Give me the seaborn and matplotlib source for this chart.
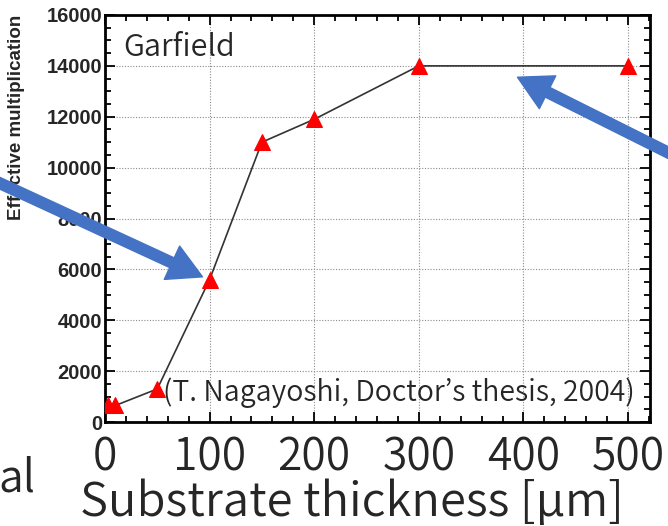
"""effective multiplication vs substrate thickness (garfield)."""

import matplotlib
matplotlib.use("Agg")
import matplotlib.pyplot as plt
from matplotlib.ticker import MultipleLocator
import seaborn as sns

# dados
thickness_um = [3, 10, 50, 100, 150, 200, 300, 500]
multiplication = [650, 650, 1300, 5600, 11000, 11900, 14000, 14000]

x_ticks = [0, 100, 200, 300, 400, 500]
y_ticks = [0, 2000, 4000, 6000, 8000, 10000, 12000, 14000, 16000]

JP = ["Noto Sans CJK JP", "DejaVu Sans"]
ARIAL = ["Liberation Sans", "DejaVu Sans"]
ARROW = "#4472C4"
JP_WEIGHT = 350

sns.set_theme(style="ticks")
plt.rcParams["font.family"] = JP
plt.rcParams["font.weight"] = JP_WEIGHT

fig = plt.figure(figsize=(6.68, 5.26), dpi=100)
ax = fig.add_axes([105 / 668, 1 - 422 / 526, 545 / 668, 407 / 526])

sns.lineplot(
    x=thickness_um, y=multiplication, ax=ax, color="#333333", lw=1.2,
    marker="^", markersize=11, markerfacecolor="red", markeredgecolor="red",
    sort=False, zorder=3,
)

ax.set_xlim(0, 521)
ax.set_ylim(0, 16000)
ax.set_xticks(x_ticks)
ax.set_yticks(y_ticks)
ax.xaxis.set_minor_locator(MultipleLocator(20))
ax.yaxis.set_minor_locator(MultipleLocator(500))
ax.grid(True, which="major", color="#8c8c8c", lw=0.8, ls=(0, (1, 1.5)))

ax.tick_params(which="both", direction="in", top=True, right=True, color="black", width=1.3)
ax.tick_params(which="major", length=7)
ax.tick_params(which="minor", length=4)
ax.tick_params(axis="x", which="major", labelsize=32, pad=9)
ax.tick_params(axis="y", which="major", labelsize=14.5, pad=2)
for lab in ax.get_xticklabels():
    lab.set_fontweight(JP_WEIGHT)
for lab in ax.get_yticklabels():
    lab.set_family(ARIAL)
    lab.set_fontweight("bold")
for s in ax.spines.values():
    s.set_linewidth(2)
    s.set_color("black")

ax.set_ylabel("Effective multiplication", fontsize=13.5, fontweight="bold", family=ARIAL)
ax.yaxis.set_label_coords(-0.147, 0.749)
ax.set_xlabel("Substrate thickness [μm]", fontsize=34, fontweight=JP_WEIGHT)
ax.xaxis.set_label_coords(0.453, -0.14)

ax.text(0.033, 0.919, "Garfield", transform=ax.transAxes, fontsize=22,
        fontweight=JP_WEIGHT, va="center", ha="left")
ax.text(0.106, 0.071, "(T. Nagayoshi, Doctor\u2019s thesis, 2004)", transform=ax.transAxes,
        fontsize=20.5, fontweight=JP_WEIGHT, va="center", ha="left")

fig.text(-0.003, 1 - 478 / 526, "al", fontsize=32, fontweight=JP_WEIGHT, va="center", ha="left")

# setas azuis do slide
arrow_kw = dict(arrowstyle="simple,head_length=1.1,head_width=1.2,tail_width=0.35",
                color=ARROW, mutation_scale=22)
ax.annotate("", xy=(205, 526 - 278), xytext=(-5, 526 - 181), xycoords="figure pixels",
            textcoords="figure pixels", arrowprops=arrow_kw, annotation_clip=False)
ax.annotate("", xy=(515, 526 - 76), xytext=(675, 526 - 156), xycoords="figure pixels",
            textcoords="figure pixels", arrowprops=arrow_kw, annotation_clip=False)

fig.savefig("out.png", dpi=100)
plt.close(fig)
